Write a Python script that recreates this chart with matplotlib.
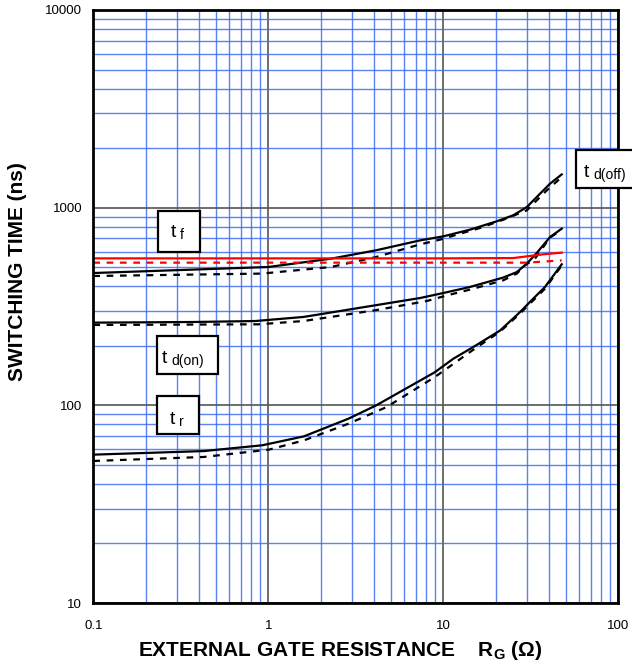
import matplotlib
matplotlib.use("Agg")
import matplotlib.pyplot as plt
from matplotlib.patches import Rectangle
from matplotlib.ticker import LogLocator, FixedLocator, NullFormatter

plt.rcParams['font.family'] = ['Liberation Sans', 'DejaVu Sans']
plt.rcParams['mathtext.fontset'] = 'custom'
plt.rcParams['mathtext.rm'] = 'Liberation Sans'
plt.rcParams['mathtext.bf'] = 'Liberation Sans:bold'

# switching times (ns) vs external gate resistance (ohm), solid / dashed pairs
td_off_x = [0.1, 1.0, 2.28, 4.11, 7.36, 10.0, 14.2, 20.2, 25.1, 30.0, 34.2, 40.7, 47.5]
td_off_y = [467, 501, 552, 608, 683, 716, 774, 853, 915, 1007, 1132, 1322, 1473]
td_off2_x = [0.1, 0.92, 2.28, 4.11, 7.36, 9.58, 12.5, 16.2, 22.0, 26.3, 30.0, 33.4, 39.0, 46.4]
td_off2_y = [451, 464, 501, 562, 652, 689, 739, 789, 869, 925, 969, 1067, 1222, 1402]

td_on_x = [0.1, 0.373, 0.843, 1.59, 4.11, 7.36, 10.0, 14.2, 22.0, 26.3, 30.0, 34.2, 40.7, 47.5]
td_on_y = [262, 264, 267, 280, 321, 349, 370, 397, 443, 472, 521, 590, 710, 783]
td_on2_x = [0.1, 0.88, 1.59, 4.11, 8.04, 10.5, 14.2, 22.0, 26.3, 29.3, 33.4, 40.7, 47.5]
td_on2_y = [255, 257, 267, 303, 337, 360, 385, 429, 464, 511, 552, 705, 775]

tr_x = [0.1, 0.428, 0.925, 1.6, 2.88, 4.14, 8.94, 11.4, 14.8, 21.1, 27.4, 32.7, 38.1, 47.5]
tr_y = [56.3, 58.7, 62.8, 69.7, 85.7, 100, 147, 172, 197, 239, 296, 347, 397, 517]
tr2_x = [0.1, 0.428, 1.01, 1.6, 2.88, 4.74, 8.94, 14.7, 21.1, 27.4, 38.1, 47.5]
tr2_y = [52.3, 54.8, 59.7, 66.5, 80.8, 98, 139, 190, 236, 291, 389, 510]

tf_x = [0.1, 1.0, 10.0, 25.1, 30.0, 37.3, 47.5]
tf_y = [554, 554, 554, 556, 567, 581, 592]
tf2_x = [0.1, 1.0, 10.0, 30.0, 47.5]
tf2_y = [527, 527, 527, 527, 541]

fig = plt.figure(figsize=(6.32, 6.64), dpi=100)
W, H = 632, 664
ax = fig.add_axes([93.3 / W, 1 - 603 / H, (618.3 - 93.3) / W, (603 - 10) / H])
ax.set_xscale('log')
ax.set_yscale('log')
ax.set_xlim(0.1, 100)
ax.set_ylim(10, 10000)

# grid: blue minor lines, dark grey decade lines
ax.xaxis.set_minor_locator(LogLocator(base=10, subs=range(2, 10)))
ax.yaxis.set_minor_locator(LogLocator(base=10, subs=range(2, 10)))
ax.xaxis.set_minor_formatter(NullFormatter())
ax.yaxis.set_minor_formatter(NullFormatter())
ax.grid(which='minor', color='#3d6df2', lw=1.0, alpha=0.85)
ax.grid(which='major', color='#555555', lw=1.2)
ax.set_axisbelow(True)

ax.xaxis.set_major_locator(FixedLocator([0.1, 1, 10, 100]))
ax.yaxis.set_major_locator(FixedLocator([10, 100, 1000, 10000]))
ax.set_xticklabels(['0.1', '1', '10', '100'])
ax.set_yticklabels(['10', '100', '1000', '10000'])
ax.tick_params(which='both', length=0, labelsize=9.5)
ax.tick_params(axis='x', pad=12)
ax.tick_params(axis='y', pad=8)

for s in ax.spines.values():
    s.set_linewidth(2)
    s.set_color('black')

dash = (0, (3, 3))
ax.plot(td_off_x, td_off_y, color='black', lw=1.6)
ax.plot(td_off2_x, td_off2_y, color='black', lw=1.6, ls=dash)
ax.plot(td_on_x, td_on_y, color='black', lw=1.6)
ax.plot(td_on2_x, td_on2_y, color='black', lw=1.6, ls=dash)
ax.plot(tr_x, tr_y, color='black', lw=1.6)
ax.plot(tr2_x, tr2_y, color='black', lw=1.6, ls=dash)
ax.plot(tf_x, tf_y, color='red', lw=1.6)
ax.plot(tf2_x, tf2_y, color='red', lw=1.6, ls=dash)


def label_box(x0, x1, y0, y1, tx, sx, base, sub):
    """Boxed label: big 't' with a small subscript, pixel positions."""
    fig.patches.append(Rectangle((x0 / W, 1 - y1 / H), (x1 - x0) / W, (y1 - y0) / H,
                                 transform=fig.transFigure, fc='white', ec='black',
                                 lw=1.6, zorder=5))
    fig.text(tx / W, 1 - base / H, 't', fontsize=14, va='baseline', zorder=6)
    fig.text(sx / W, 1 - (base + 2) / H, sub, fontsize=10, va='baseline', zorder=6)


label_box(158, 200, 211, 252, 171, 180, 237, 'f')
label_box(157, 218, 336, 374, 162, 171, 363, 'd(on)')
label_box(157, 199, 396, 434, 170, 179, 424, 'r')
label_box(576, 645, 150, 188, 584, 593, 177, 'd(off)')

fig.text(340 / W, 1 - 651 / H, r'EXTERNAL GATE RESISTANCE    R$_{\mathbf{G}}$ (Ω)',
         fontsize=15, fontweight='bold', ha='center', va='center')
fig.text(18 / W, 1 - 272 / H, 'SWITCHING TIME (ns)', fontsize=15, fontweight='bold',
         rotation=90, ha='center', va='center')

fig.savefig('out.png', dpi=100)
